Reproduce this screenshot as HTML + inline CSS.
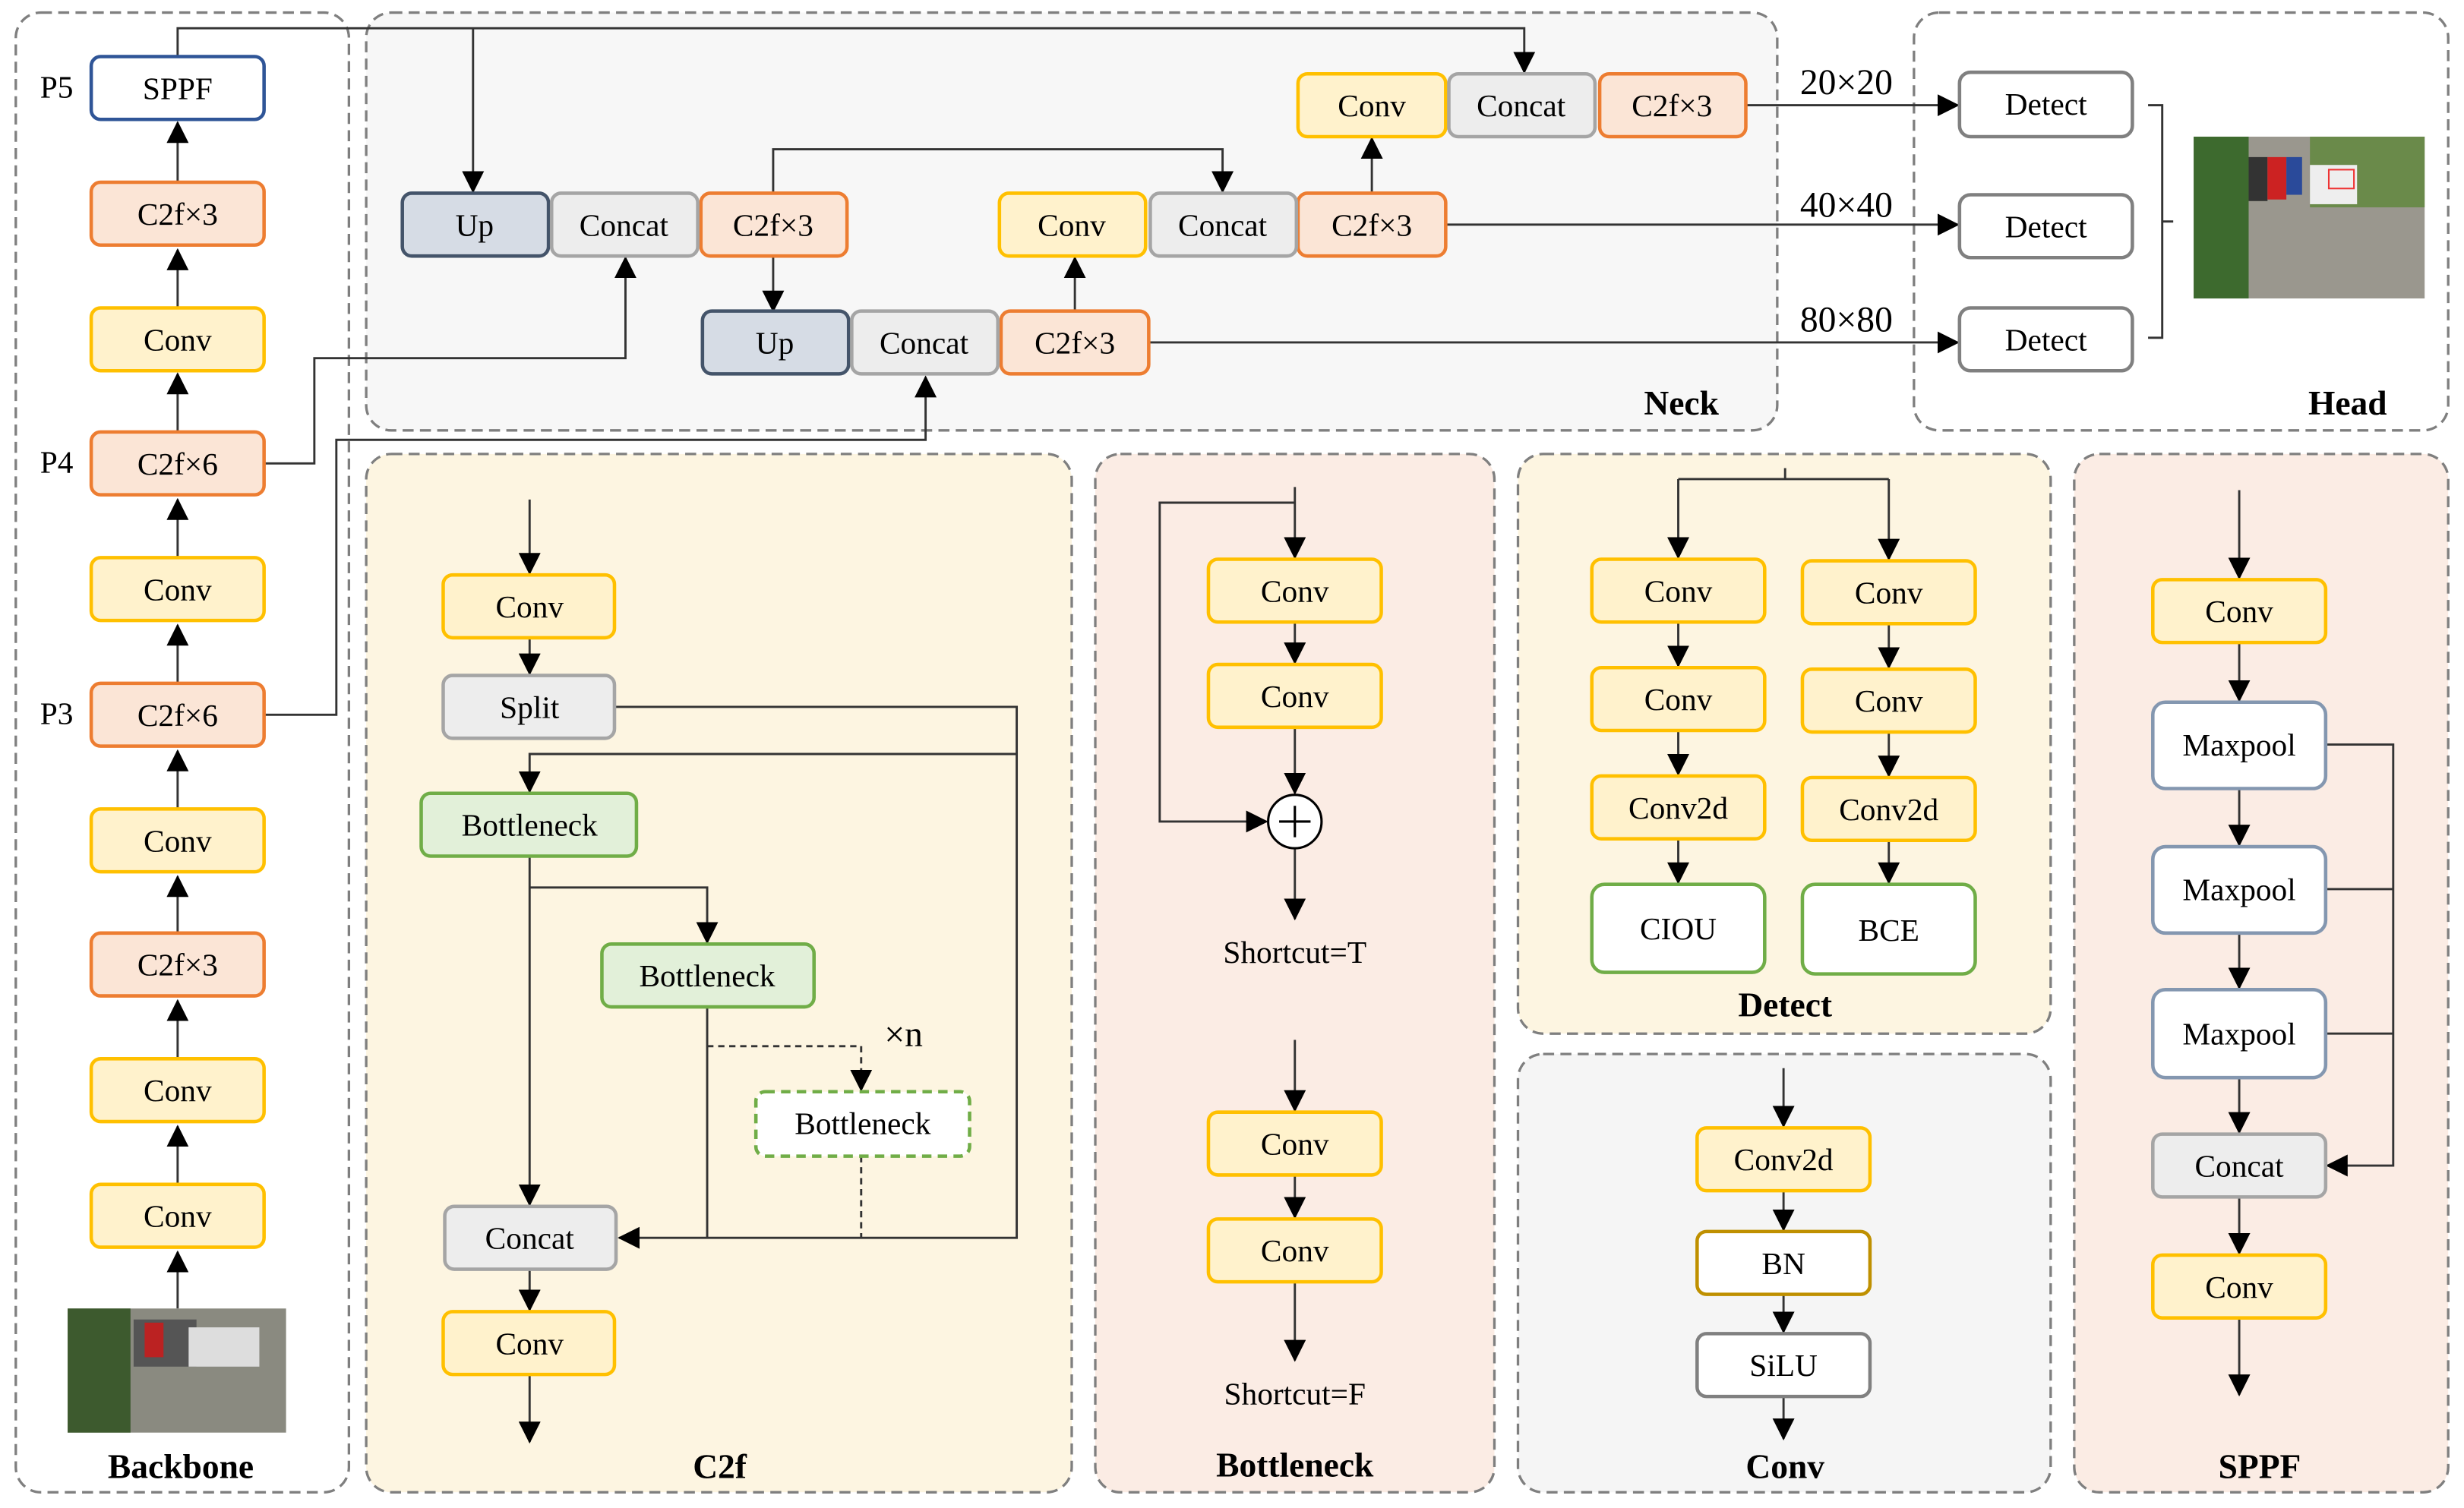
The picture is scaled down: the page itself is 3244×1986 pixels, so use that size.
<!DOCTYPE html>
<html><head><meta charset="utf-8"><style>html,body{margin:0;padding:0;background:#fff}svg{display:block}text{font-family:"Liberation Serif",serif}</style></head>
<body>
<svg width="3244" height="1986" viewBox="0 0 1568 960" xmlns="http://www.w3.org/2000/svg" font-family="Liberation Serif, serif">
<defs>
<marker id="a" markerUnits="userSpaceOnUse" markerWidth="14" markerHeight="14" refX="13" refY="7" orient="auto"><path d="M0,0 L14,7 L0,14 z" fill="#000"/></marker>
</defs>
<g stroke="#7f7f7f" stroke-width="1.6" stroke-dasharray="7,4">
<rect x="10" y="8" width="212" height="942" rx="16" fill="#fff"/>
<rect x="233" y="8" width="898" height="266" rx="16" fill="#f7f7f7"/>
<rect x="1218" y="8" width="340" height="266" rx="16" fill="#fff"/>
<rect x="233" y="289" width="449" height="661" rx="16" fill="#fdf5e1"/>
<rect x="697" y="289" width="254" height="661" rx="16" fill="#fbece4"/>
<rect x="966" y="289" width="339" height="369" rx="16" fill="#fdf5e1"/>
<rect x="966" y="671" width="339" height="279" rx="16" fill="#f5f5f5"/>
<rect x="1320" y="289" width="238" height="661" rx="16" fill="#fbece4"/>
</g>
<g stroke="#333" stroke-width="1.4" fill="none">
<path d="M113,833 V797" marker-end="url(#a)"/>
<path d="M113,754 V717" marker-end="url(#a)"/>
<path d="M113,674 V637" marker-end="url(#a)"/>
<path d="M113,594 V558" marker-end="url(#a)"/>
<path d="M113,515 V478" marker-end="url(#a)"/>
<path d="M113,435 V398" marker-end="url(#a)"/>
<path d="M113,355 V318" marker-end="url(#a)"/>
<path d="M113,275 V238" marker-end="url(#a)"/>
<path d="M113,196 V159" marker-end="url(#a)"/>
<path d="M113,116 V78" marker-end="url(#a)"/>
<path d="M113,36 V18 H970 V46" marker-end="url(#a)"/>
<path d="M301,18 V122" marker-end="url(#a)"/>
<path d="M168,295 H200 V228 H398 V164" marker-end="url(#a)"/>
<path d="M168,455 H214 V280 H589 V240" marker-end="url(#a)"/>
<path d="M492,123 V95 H778 V122" marker-end="url(#a)"/>
<path d="M492,163 V198" marker-end="url(#a)"/>
<path d="M684,198 V164" marker-end="url(#a)"/>
<path d="M873,122 V88" marker-end="url(#a)"/>
<path d="M1111,67 H1246" marker-end="url(#a)"/>
<path d="M920,143 H1246" marker-end="url(#a)"/>
<path d="M731,218 H1246" marker-end="url(#a)"/>
<path d="M1367,67 H1376 V215 H1367 M1376,141 H1383"/>
<path d="M337,318 V365" marker-end="url(#a)"/>
<path d="M337,406 V429" marker-end="url(#a)"/>
<path d="M391,450 H647 V788 H394" marker-end="url(#a)"/>
<path d="M647,480 H337 V504" marker-end="url(#a)"/>
<path d="M337,545 V767" marker-end="url(#a)"/>
<path d="M337,565 H450 V600" marker-end="url(#a)"/>
<path d="M450,641 V788"/>
<path d="M450,666 H548 V694" stroke-dasharray="4,3" marker-end="url(#a)"/>
<path d="M548,736 V788" stroke-dasharray="4,3"/>
<path d="M337,808 V834" marker-end="url(#a)"/>
<path d="M337,875 V918" marker-end="url(#a)"/>
<path d="M824,310 V355" marker-end="url(#a)"/>
<path d="M824,320 H738 V523 H806" marker-end="url(#a)"/>
<path d="M824,396 V422" marker-end="url(#a)"/>
<path d="M824,463 V505" marker-end="url(#a)"/>
<path d="M824,540 V585" marker-end="url(#a)"/>
<path d="M824,662 V707" marker-end="url(#a)"/>
<path d="M824,748 V775" marker-end="url(#a)"/>
<path d="M824,816 V866" marker-end="url(#a)"/>
<path d="M1136,298 V305 M1068,305 H1202"/>
<path d="M1068,305 V355" marker-end="url(#a)"/>
<path d="M1202,305 V356" marker-end="url(#a)"/>
<path d="M1068,396 V424" marker-end="url(#a)"/>
<path d="M1068,465 V493" marker-end="url(#a)"/>
<path d="M1068,534 V562" marker-end="url(#a)"/>
<path d="M1202,397 V425" marker-end="url(#a)"/>
<path d="M1202,466 V494" marker-end="url(#a)"/>
<path d="M1202,535 V562" marker-end="url(#a)"/>
<path d="M1135,680 V717" marker-end="url(#a)"/>
<path d="M1135,758 V783" marker-end="url(#a)"/>
<path d="M1135,824 V848" marker-end="url(#a)"/>
<path d="M1135,889 V916" marker-end="url(#a)"/>
<path d="M1425,312 V368" marker-end="url(#a)"/>
<path d="M1425,409 V446" marker-end="url(#a)"/>
<path d="M1425,502 V538" marker-end="url(#a)"/>
<path d="M1425,594 V629" marker-end="url(#a)"/>
<path d="M1425,686 V721" marker-end="url(#a)"/>
<path d="M1425,762 V798" marker-end="url(#a)"/>
<path d="M1425,839 V888" marker-end="url(#a)"/>
<path d="M1480,474 H1523 V742 H1481" marker-end="url(#a)"/>
<path d="M1480,566 H1523 M1480,658 H1523"/>
</g>
<circle cx="824" cy="523" r="17" fill="#fff" stroke="#000" stroke-width="1.5"/>
<path d="M814,523 H834 M824,513 V533" stroke="#000" stroke-width="1.5"/>
<g stroke-width="2.2">
<g fill="#fff2cc" stroke="#ffc000">
<rect x="58" y="196" width="110" height="40" rx="6"/>
<rect x="58" y="355" width="110" height="40" rx="6"/>
<rect x="58" y="515" width="110" height="40" rx="6"/>
<rect x="58" y="674" width="110" height="40" rx="6"/>
<rect x="58" y="754" width="110" height="40" rx="6"/>
<rect x="826" y="47" width="94" height="40" rx="6"/>
<rect x="636" y="123" width="93" height="40" rx="6"/>
<rect x="282" y="366" width="109" height="40" rx="6"/>
<rect x="282" y="835" width="109" height="40" rx="6"/>
<rect x="769" y="356" width="110" height="40" rx="6"/>
<rect x="769" y="423" width="110" height="40" rx="6"/>
<rect x="769" y="708" width="110" height="40" rx="6"/>
<rect x="769" y="776" width="110" height="40" rx="6"/>
<rect x="1013" y="356" width="110" height="40" rx="6"/>
<rect x="1013" y="425" width="110" height="40" rx="6"/>
<rect x="1013" y="494" width="110" height="40" rx="6"/>
<rect x="1147" y="357" width="110" height="40" rx="6"/>
<rect x="1147" y="426" width="110" height="40" rx="6"/>
<rect x="1147" y="495" width="110" height="40" rx="6"/>
<rect x="1080" y="718" width="110" height="40" rx="6"/>
<rect x="1370" y="369" width="110" height="40" rx="6"/>
<rect x="1370" y="799" width="110" height="40" rx="6"/>
</g>
<g fill="#fbe5d6" stroke="#ed7d31">
<rect x="58" y="116" width="110" height="40" rx="6"/>
<rect x="58" y="275" width="110" height="40" rx="6"/>
<rect x="58" y="435" width="110" height="40" rx="6"/>
<rect x="58" y="594" width="110" height="40" rx="6"/>
<rect x="446" y="123" width="93" height="40" rx="6"/>
<rect x="637" y="198" width="94" height="40" rx="6"/>
<rect x="826" y="123" width="94" height="40" rx="6"/>
<rect x="1018" y="47" width="93" height="40" rx="6"/>
</g>
<g fill="#d6dce5" stroke="#44546a">
<rect x="256" y="123" width="93" height="40" rx="6"/>
<rect x="447" y="198" width="93" height="40" rx="6"/>
</g>
<g fill="#ededed" stroke="#a5a5a5">
<rect x="351" y="123" width="93" height="40" rx="6"/>
<rect x="542" y="198" width="93" height="40" rx="6"/>
<rect x="732" y="123" width="93" height="40" rx="6"/>
<rect x="922" y="47" width="93" height="40" rx="6"/>
<rect x="282" y="430" width="109" height="40" rx="6"/>
<rect x="283" y="768" width="109" height="40" rx="6"/>
<rect x="1370" y="722" width="110" height="40" rx="6"/>
</g>
<g fill="#e2f0d9" stroke="#70ad47">
<rect x="268" y="505" width="137" height="40" rx="6"/>
<rect x="383" y="601" width="135" height="40" rx="6"/>
</g>
<rect x="481" y="695" width="136" height="41" rx="6" fill="#fff" stroke="#70ad47" stroke-dasharray="6,4"/>
<g fill="#fff" stroke="#70ad47"><rect x="1013" y="563" width="110" height="56" rx="8"/><rect x="1147" y="563" width="110" height="57" rx="8"/></g>
<rect x="58" y="36" width="110" height="40" rx="6" fill="#fff" stroke="#2f5597"/>
<g fill="#fff" stroke="#808080"><rect x="1247" y="46" width="110" height="41" rx="7"/><rect x="1247" y="124" width="110" height="40" rx="7"/><rect x="1247" y="196" width="110" height="40" rx="7"/><rect x="1080" y="849" width="110" height="40" rx="6"/></g>
<rect x="1080" y="784" width="110" height="40" rx="6" fill="#fff" stroke="#bf9000"/>
<g fill="#fff" stroke="#8497b0"><rect x="1370" y="447" width="110" height="55" rx="8"/><rect x="1370" y="539" width="110" height="55" rx="8"/><rect x="1370" y="630" width="110" height="56" rx="8"/></g>
</g>
<g>
<rect x="43" y="833" width="139" height="79" fill="#8a8a80"/>
<rect x="43" y="833" width="40" height="79" fill="#3d5a2e"/>
<rect x="85" y="840" width="40" height="30" fill="#555"/><rect x="92" y="842" width="12" height="22" fill="#b22"/>
<rect x="120" y="845" width="45" height="25" fill="#ddd"/>
<rect x="1396" y="87" width="147" height="103" fill="#9a978e"/>
<rect x="1396" y="87" width="35" height="103" fill="#3d6a2e"/>
<rect x="1470" y="87" width="73" height="45" fill="#6a8a4a"/>
<rect x="1431" y="100" width="12" height="28" fill="#333"/><rect x="1443" y="100" width="12" height="27" fill="#c22"/><rect x="1455" y="100" width="10" height="24" fill="#2a4a9a"/>
<rect x="1470" y="105" width="30" height="25" fill="#eee"/>
<rect x="1482" y="108" width="16" height="12" fill="none" stroke="#e33" stroke-width="1"/>
</g>
<g font-size="20" text-anchor="middle" fill="#000">
<text x="113" y="63">SPPF</text><text x="113" y="143">C2f×3</text><text x="113" y="223">Conv</text><text x="113" y="302">C2f×6</text><text x="113" y="382">Conv</text><text x="113" y="462">C2f×6</text><text x="113" y="542">Conv</text><text x="113" y="621">C2f×3</text><text x="113" y="701">Conv</text><text x="113" y="781">Conv</text>
<text x="36" y="62">P5</text><text x="36" y="301">P4</text><text x="36" y="461">P3</text>
<text x="302" y="150">Up</text><text x="397" y="150">Concat</text><text x="492" y="150">C2f×3</text>
<text x="493" y="225">Up</text><text x="588" y="225">Concat</text><text x="684" y="225">C2f×3</text>
<text x="682" y="150">Conv</text><text x="778" y="150">Concat</text><text x="873" y="150">C2f×3</text>
<text x="873" y="74">Conv</text><text x="968" y="74">Concat</text><text x="1064" y="74">C2f×3</text>
<text x="1175" y="60" font-size="23">20×20</text><text x="1175" y="138" font-size="23">40×40</text><text x="1175" y="211" font-size="23">80×80</text>
<text x="1302" y="73">Detect</text><text x="1302" y="151">Detect</text><text x="1302" y="223">Detect</text>
<text x="337" y="393">Conv</text><text x="337" y="457">Split</text><text x="337" y="532">Bottleneck</text><text x="450" y="628">Bottleneck</text><text x="549" y="722">Bottleneck</text><text x="575" y="666" font-size="23">×n</text><text x="337" y="795">Concat</text><text x="337" y="862">Conv</text>
<text x="824" y="383">Conv</text><text x="824" y="450">Conv</text><text x="824" y="613">Shortcut=T</text><text x="824" y="735">Conv</text><text x="824" y="803">Conv</text><text x="824" y="894">Shortcut=F</text>
<text x="1068" y="383">Conv</text><text x="1068" y="452">Conv</text><text x="1068" y="521">Conv2d</text><text x="1068" y="598">CIOU</text>
<text x="1202" y="384">Conv</text><text x="1202" y="453">Conv</text><text x="1202" y="522">Conv2d</text><text x="1202" y="599">BCE</text>
<text x="1135" y="745">Conv2d</text><text x="1135" y="811">BN</text><text x="1135" y="876">SiLU</text>
<text x="1425" y="396">Conv</text><text x="1425" y="481">Maxpool</text><text x="1425" y="573">Maxpool</text><text x="1425" y="665">Maxpool</text><text x="1425" y="749">Concat</text><text x="1425" y="826">Conv</text>
</g>
<g font-size="22" font-weight="bold" text-anchor="middle">
<text x="115" y="941">Backbone</text><text x="1070" y="264">Neck</text><text x="1494" y="264">Head</text><text x="458" y="941">C2f</text><text x="824" y="940">Bottleneck</text><text x="1136" y="647">Detect</text><text x="1136" y="941">Conv</text><text x="1438" y="941">SPPF</text>
</g>
</svg>
</body></html>
